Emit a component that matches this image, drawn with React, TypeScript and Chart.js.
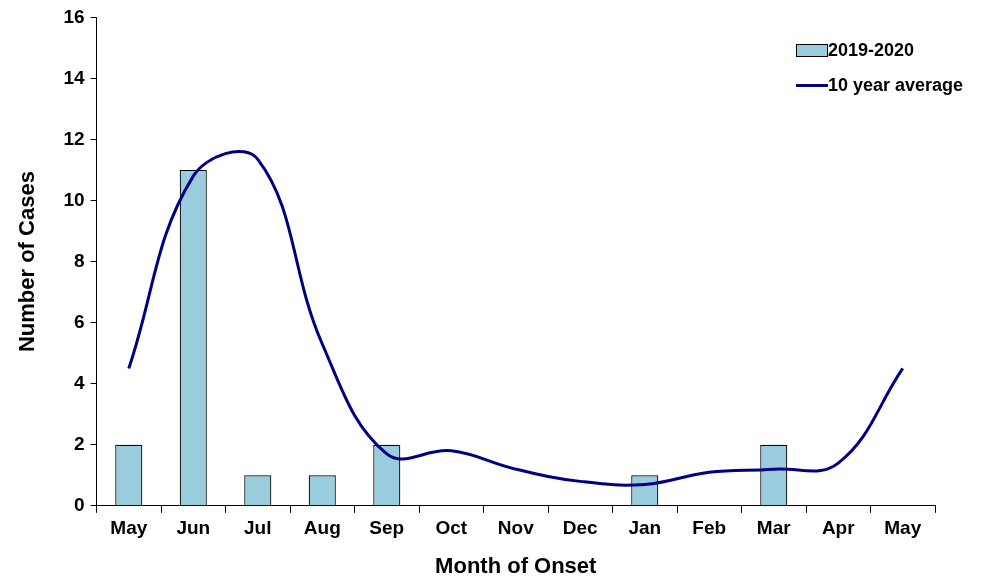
import React, { useEffect, useRef } from 'react';
import { Chart } from 'chart.js/auto';

const months = ['May', 'Jun', 'Jul', 'Aug', 'Sep', 'Oct', 'Nov', 'Dec', 'Jan', 'Feb', 'Mar', 'Apr', 'May'];
const cases2019 = [2, 11, 1, 1, 2, 0, 0, 0, 1, 0, 2, 0, 0];
const tenYearAvg = [4.5, 10.8, 11.35, 5.3, 1.7, 1.8, 1.2, 0.8, 0.7, 1.1, 1.2, 1.4, 4.5];

const FONT = 'Liberation Sans, Arial, sans-serif';

export default function App() {
  const canvasRef = useRef<HTMLCanvasElement>(null);

  useEffect(() => {
    document.body.style.margin = '0';
    const ctx = canvasRef.current?.getContext('2d');
    if (!ctx) return;
    const chart = new Chart(ctx, {
      type: 'bar',
      data: {
        labels: months,
        datasets: [
          {
            type: 'line',
            label: '10 year average',
            data: tenYearAvg,
            borderColor: '#000080',
            borderWidth: 3,
            pointRadius: 0,
            tension: 0.4,
            fill: false,
          },
          {
            type: 'bar',
            label: '2019-2020',
            data: cases2019,
            backgroundColor: '#99CCDD',
            borderColor: '#000',
            borderWidth: 1.2,
            barPercentage: 0.42,
            categoryPercentage: 1,
          },
        ],
      },
      options: {
        animation: false,
        responsive: true,
        maintainAspectRatio: false,
        layout: { padding: { top: 8, right: 50, left: 11, bottom: 0 } },
        plugins: { legend: { display: false }, tooltip: { enabled: false } },
        scales: {
          x: {
            grid: { drawOnChartArea: false, color: '#000', tickLength: 7, offset: true },
            border: { color: '#000', width: 1 },
            ticks: { color: '#000', font: { family: FONT, size: 19, weight: 'bold' }, padding: 5 },
            title: { display: true, text: 'Month of Onset', color: '#000', font: { family: FONT, size: 22, weight: 'bold' }, padding: { top: 8 } },
          },
          y: {
            min: 0,
            max: 16,
            ticks: { stepSize: 2, color: '#000', font: { family: FONT, size: 19, weight: 'bold' }, padding: 6 },
            grid: { drawOnChartArea: false, color: '#000', tickLength: 6 },
            border: { color: '#000', width: 1 },
            title: { display: true, text: 'Number of Cases', color: '#000', font: { family: FONT, size: 22, weight: 'bold' }, padding: { bottom: 16 } },
          },
        },
      },
    });
    return () => chart.destroy();
  }, []);

  const legendText: React.CSSProperties = { font: `bold 18px ${FONT}`, color: '#000' };
  return (
    <div style={{ position: 'relative', width: 985, height: 584 }}>
      <canvas ref={canvasRef}></canvas>
      <div style={{ position: 'absolute', left: 796, top: 39 }}>
        <div style={{ display: 'flex', alignItems: 'center', height: 22 }}>
          <span style={{ width: 32, height: 13, background: '#99CCDD', border: '1px solid #000', boxSizing: 'border-box', marginRight: 0 }} />
          <span style={legendText}>2019-2020</span>
        </div>
        <div style={{ display: 'flex', alignItems: 'center', height: 22, marginTop: 13 }}>
          <span style={{ width: 32, height: 3, background: '#000080' }} />
          <span style={legendText}>10 year average</span>
        </div>
      </div>
    </div>
  );
}
